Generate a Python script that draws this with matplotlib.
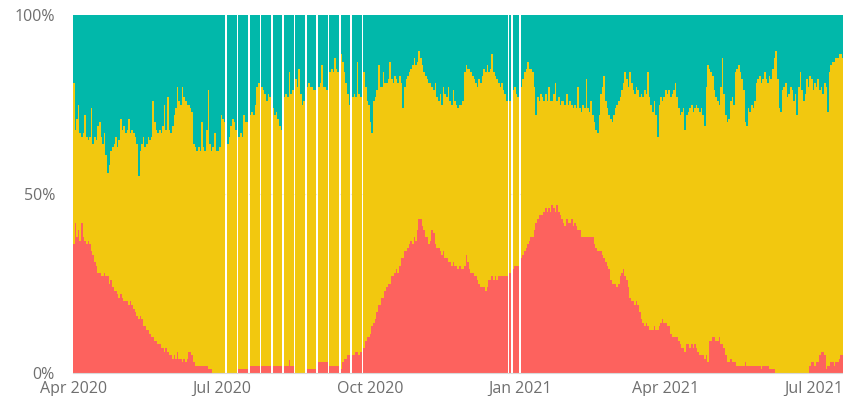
import datetime as dt

import matplotlib
matplotlib.use("Agg")
import matplotlib.pyplot as plt
import matplotlib.dates as mdates
import numpy as np

# daily shares in percent, starting 1 Apr 2020; None = no data that day
start_day = dt.date(2020, 4, 1)

red_share = [
    36, 42, 38, 40, 37, 42, 38, 37, 36, 37,
    36, 34, 33, 31, 30, 28, 28, 27, 27, 28,
    27, 27, 25, 26, 24, 23, 23, 22, 21, 22,
    21, 20, 20, 20, 19, 20, 19, 18, 17, 16,
    15, 16, 15, 13, 13, 12, 12, 11, 10, 10,
    9, 9, 8, 8, 7, 7, 6, 7, 6, 5,
    5, 4, 5, 4, 6, 4, 4, 3, 4, 3,
    4, 6, 6, 5, 3, 2, 2, 2, 2, 2,
    2, 2, 2, 1, 1, 1, 0, 0, 0, 0,
    0, 0, 0, 0, None, 0, 0, 0, 0, 0,
    0, None, 1, 1, 1, 1, 1, 1, None, 2,
    2, 2, 2, 2, 2, None, 2, 2, 2, 2,
    2, 2, None, 2, 2, 2, 2, 2, 2, None,
    2, 2, 2, 3.5, 2, 2, None, 0, 0, 0,
    0, 0, 0, None, 1, 1, 1, 1, 1, 1,
    None, 3, 3, 3, 3, 3, 3, None, 2, 2,
    2, 2, 2, 2, None, 1, 3, 4, 4, 5,
    5, None, 5, 5, 6, 6, 5, 6, None, 7,
    9, 10, 10, 11, 13, 14, 15, 17, 19, 19,
    21, 21, 23, 24, 25, 25, 27, 27, 28, 29,
    28, 30, 32, 32, 34, 34, 35, 36, 37, 36,
    38, 37, 40, 43, 43, 41, 40, 38, 38, 36,
    37, 40, 39, 36, 35, 35, 34, 33, 34, 32,
    32, 31, 31, 30, 31, 30, 30, 29, 30, 29,
    29, 30, 33, 31, 29, 28, 28, 27, 27, 26,
    25, 24, 24, 24, 23, 24, 26, 26, 27, 26,
    27, 26, 27, 27, 27, 27, 27, 27, None, 28,
    None, 29, 30, 30, 30, None, 32, 33, 34, 35,
    36, 37, 38, 38, 40, 42, 43, 44, 44, 44,
    45, 46, 45, 46, 45, 47, 46, 45, 47, 45,
    44, 43, 42, 41, 43, 42, 42, 43, 41, 42,
    41, 40, 40, 38, 38, 38, 38, 38, 38, 38,
    38, 36, 35, 34, 34, 34, 33, 32, 31, 30,
    29, 26, 25, 25, 25, 24, 25, 27, 28, 29,
    27, 26, 24, 21, 20, 20, 19, 20, 19, 17,
    15, 14, 13, 14, 13, 12, 12, 12, 13, 12,
    12, 13, 14, 15, 14, 14, 13, 13, 11, 10,
    10, 10, 10, 9, 8, 7, 7, 6, 8, 8,
    7, 8, 7, 8, 7, 6, 5, 5, 5, 4,
    5, 3, 9, 9, 10, 10, 9, 9, 10, 8,
    8, 7, 5, 3, 3, 4, 3, 3, 3, 2,
    2, 2, 2, 2, 3, 2, 2, 2, 2, 2,
    2, 2, 2, 2, 1, 2, 2, 2, 2, 1,
    1, 1, 1, 0, 0, 0, 0, 0, 0, 0,
    0, 0, 0, 0, 0, 0, 0, 0, 0, 0,
    0, 0, 0, 0, 2, 3, 3, 2, 3, 3,
    5, 6, 6, 5, 1, 2, 2, 3, 3, 2,
    3, 3, 4, 5, 5,
]

teal_share = [
    19, 32, 29, 25, 33, 34, 33, 28, 34, 35,
    34, 26, 36, 34, 35, 31, 30, 34, 36, 33,
    39, 44, 42, 38, 37, 36, 34, 37, 35, 29,
    32, 31, 33, 32, 29, 33, 32, 33, 34, 36,
    45, 38, 36, 34, 37, 36, 34, 35, 34, 24,
    30, 32, 33, 32, 33, 31, 25, 32, 23, 32,
    33, 31, 28, 26, 20, 24, 25, 20, 23, 24,
    25, 25, 26, 27, 36, 37, 38, 37, 38, 30,
    37, 38, 32, 21, 36, 38, 37, 33, 38, 38,
    37, 28, 29, 30, None, 36, 34, 31, 29, 30,
    32, None, 34, 33, 34, 28, 30, 30, None, 28,
    27, 28, 25, 20, 19, None, 20, 21, 22, 24,
    22, 23, None, 26, 28, 27, 29, 31, 32, None,
    23, 22, 23, 16, 22, 21, None, 18, 20, 15,
    22, 25, 24, None, 20, 19, 20, 20, 21, 21,
    None, 20, 19, 14, 20, 20, 21, None, 16, 15,
    16, 12, 15, 16, None, 11, 13, 16, 19, 22,
    25, None, 23, 22, 23, 13, 22, 23, None, 16,
    20, 24, 25, 30, 33, 24, 23, 21, 14, 20,
    20, 16, 19, 19, 18, 13, 18, 19, 17, 18,
    19, 17, 19, 26, 20, 18, 17, 16, 15, 14,
    12, 14, 13, 10, 12, 14, 16, 17, 18, 19,
    19, 20, 21, 19, 23, 24, 22, 25, 20, 22,
    23, 20, 24, 25, 21, 24, 25, 26, 25, 25,
    24, 16, 14, 15, 15, 16, 17, 18, 19, 20,
    18, 19, 17, 15, 16, 14, 16, 15, 11, 16,
    17, 18, 19, 20, 19, 21, 22, 24, None, 24,
    None, 21, 20, 22, 23, None, 20, 18, 16, 15,
    13, 15, 15, 16, 20, 28, 23, 24, 22, 23,
    24, 22, 24, 20, 24, 24, 22, 19, 24, 23,
    25, 24, 24, 25, 22, 25, 24, 25, 26, 25,
    26, 20, 26, 27, 25, 26, 18, 26, 27, 24,
    28, 30, 32, 33, 28, 22, 20, 17, 24, 26,
    28, 29, 30, 28, 26, 25, 24, 23, 21, 19,
    16, 18, 20, 16, 19, 21, 22, 20, 21, 23,
    22, 23, 21, 22, 16, 23, 25, 27, 24, 28,
    34, 25, 23, 24, 23, 21, 22, 21, 23, 22,
    21, 19, 23, 26, 28, 27, 26, 32, 28, 27,
    26, 25, 27, 26, 25, 26, 27, 26, 28, 31,
    20, 14, 15, 16, 17, 21, 23, 24, 25, 20,
    12, 22, 28, 30, 29, 24, 23, 25, 16, 15,
    14, 16, 18, 21, 30, 31, 26, 27, 25, 26,
    24, 19, 18, 17, 19, 18, 16, 18, 19, 17,
    18, 15, 12, 10, 18, 26, 27, 21, 20, 19,
    23, 22, 20, 21, 24, 22, 28, 20, 16, 21,
    24, 22, 18, 20, 17, 18, 21, 19, 20, 18,
    21, 20, 22, 19, 20, 27, 16, 14, 13, 13,
    12, 12, 11, 11, 12,
]

tick_dates = [dt.date(2020, 4, 1), dt.date(2020, 7, 1), dt.date(2020, 10, 1),
              dt.date(2021, 1, 1), dt.date(2021, 4, 1), dt.date(2021, 7, 1)]
tick_labels = ["Apr 2020", "Jul 2020", "Oct 2020", "Jan 2021", "Apr 2021", "Jul 2021"]

RED = "#FD625E"
YELLOW = "#F2C80F"
TEAL = "#01B8AA"
GREY = "#6f6f6f"

plt.rcParams["font.family"] = ["Open Sans", "DejaVu Sans"]

days = [start_day + dt.timedelta(days=i) for i in range(len(red_share))]
keep = [r is not None for r in red_share]
x = mdates.date2num([d for d, k in zip(days, keep) if k])
red = np.array([v for v, k in zip(red_share, keep) if k], dtype=float)
teal = np.array([v for v, k in zip(teal_share, keep) if k], dtype=float)
yellow = 100 - red - teal

fig = plt.figure(figsize=(8.43, 3.96), dpi=100)
ax = fig.add_axes([73 / 843, 23 / 396, 770 / 843, 358 / 396])

ax.axhline(50, color="#e6e6e6", lw=0.8, ls=(0, (1, 1)), zorder=0)
# one bar per day, touching; missing dates leave a white gap
ax.bar(x, red, width=1.0, color=RED, linewidth=0, zorder=2)
ax.bar(x, yellow, width=1.0, bottom=red, color=YELLOW, linewidth=0, zorder=2)
ax.bar(x, teal, width=1.0, bottom=red + yellow, color=TEAL, linewidth=0, zorder=2)

x0 = mdates.date2num(start_day) - 0.5
ax.set_xlim(x0, x0 + 770 / 1.622)
ax.set_ylim(0, 100)

ax.set_xticks(mdates.date2num(tick_dates))
ax.set_xticklabels(tick_labels)
ax.set_yticks([0, 50, 100])
ax.set_yticklabels(["0%", "50%", "100%"])
ax.tick_params(axis="both", length=0, labelsize=11.5, colors=GREY)
ax.tick_params(axis="x", pad=6)
ax.tick_params(axis="y", pad=13)
for side in ["top", "right", "left"]:
    ax.spines[side].set_visible(False)
ax.spines["bottom"].set_color("#d9d9d9")

fig.savefig("out.png", dpi=100)
